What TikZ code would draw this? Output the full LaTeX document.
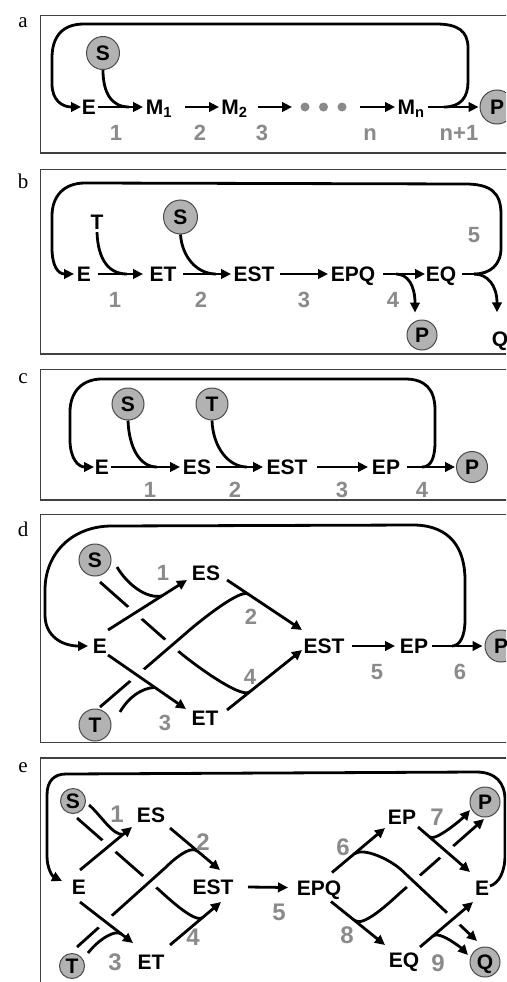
\documentclass[tikz,border=0pt]{standalone}
\usepackage{fontspec}
\setmainfont{Liberation Sans}
\newfontfamily\tagserif{Liberation Serif}
\usetikzlibrary{arrows.meta,calc}

\definecolor{molfill}{HTML}{B2B2B2}
\definecolor{molrim}{HTML}{4A4A4A}
\definecolor{stepgray}{HTML}{8A8A8A}
\definecolor{framegray}{HTML}{404040}

\newcommand{\lblfont}{\fontsize{21}{23}\selectfont\bfseries}
\newcommand{\numfont}{\fontsize{22}{24}\selectfont\bfseries}
\newcommand{\bignumfont}{\fontsize{24}{26}\selectfont\bfseries}
\newcommand{\tagfont}{\fontsize{21}{23}\selectfont\tagserif}

\tikzset{
  lbl/.style={font=\lblfont, inner sep=0pt, text height=15pt, text depth=0pt},
  mol/.style={circle, draw=molrim, fill=molfill, line width=1pt, inner sep=0pt,
              minimum size=#1, font=\lblfont, text height=15pt, text depth=0pt},
  mol/.default=32pt,
  num/.style={font=\numfont, text=stepgray, inner sep=0pt, text height=15.8pt, text depth=0pt},
  bignum/.style={font=\bignumfont, text=stepgray, inner sep=0pt, text height=17.2pt, text depth=0pt},
  tag/.style={font=\tagfont, inner sep=0pt, anchor=base},
  dotnode/.style={circle, fill=stepgray, inner sep=0pt, minimum size=9pt},
  rxn/.style={line width=2.8pt, -{Triangle[length=10pt,width=9.5pt]}},
  wire/.style={line width=2.8pt},
  halo/.style={line width=17pt, white},
  frame/.style={draw=framegray, line width=1.3pt},
}

\begin{document}
\begin{tikzpicture}[x=1pt,y=-1pt]
\useasboundingbox (0,0) rectangle (506,982);
\clip (0,0) rectangle (506,982);
\fill[white] (0,0) rectangle (506,982);

% ---------------- panel a: linear chain E -> M1 -> ... -> Mn ----------------
\node[tag] (tagA) at (23,28) {a};
\draw[frame] (40.7,15.7) rectangle (530,153);
\node[lbl] (aE) at (89,107) {E};
\node[lbl] (aM1) at (159,107) {M\textsubscript{1}};
\node[lbl] (aM2) at (234.5,107) {M\textsubscript{2}};
\node[dotnode] (aD1) at (305,107) {};
\node[dotnode] (aD2) at (323.5,107) {};
\node[dotnode] (aD3) at (342,107) {};
\node[lbl] (aMn) at (411,107) {M\textsubscript{n}};
\node[mol=33pt] (aS) at (103,53) {S};
\node[mol=34pt] (aP) at (497,107) {P};
\coordinate (aJS) at (129,107);
\coordinate (aJL) at (444,107);

\draw[rxn] ($(aE)+(9,0)$) -- ($(aM1)+(-16,0)$);
\draw[rxn] ($(aM1)+(26,0)$) -- ($(aM2)+(-15.5,0)$);
\draw[rxn] ($(aM2)+(23.5,0)$) -- ($(aD1)+(-13,0)$);
\draw[rxn] ($(aD3)+(18,0)$) -- ($(aMn)+(-16,0)$);
\draw[rxn] ($(aMn)+(17,0)$) -- ([xshift=-1pt]aP.west);
\draw[wire] (aS.south) .. controls (103,92) and (111,107) .. (aJS);
\draw[rxn] (aJL) .. controls (461,107) and (468,97) .. (468,82) -- (468,48)
  .. controls (468,31) and (458,24) .. (436,24) -- (84,24)
  .. controls (62,24) and (52,37) .. (52,58) -- (52,84)
  .. controls (52,100) and (62,107) .. ($(aE)+(-8,0)$);

\node[num] (aN1) at (116,133) {1};
\node[num] (aN2) at (200,133) {2};
\node[num] (aN3) at (262,133) {3};
\node[num] (aNn) at (370,133) {n};
\node[num] (aNm) at (459,133) {n+1};

% ---------------- panel b ----------------
\node[tag] (tagB) at (23,188) {b};
\draw[frame] (40.7,169.3) rectangle (530,354);
\node[lbl] (bE) at (84,274) {E};
\node[lbl] (bET) at (163,274) {ET};
\node[lbl] (bEST) at (254,274) {EST};
\node[lbl] (bEPQ) at (353,274) {EPQ};
\node[lbl] (bEQ) at (441,274) {EQ};
\node[lbl] (bT) at (97,221.5) {T};
\node[mol=34pt] (bS) at (180.5,217) {S};
\node[mol=30pt] (bP) at (422,335) {P};
\node[lbl] (bQ) at (500,339) {Q};
\coordinate (bJT) at (127,274);
\coordinate (bJS) at (216,274);
\coordinate (bJP) at (396,274);
\coordinate (bJQ) at (474,274);

\draw[rxn] ($(bE)+(14,0)$) -- ($(bET)+(-20,0)$);
\draw[rxn] ($(bET)+(20,0)$) -- ($(bEST)+(-23,0)$);
\draw[rxn] ($(bEST)+(26,0)$) -- ($(bEPQ)+(-25,0)$);
\draw[rxn] ($(bEPQ)+(30,0)$) -- ($(bEQ)+(-16,0)$);
\draw[wire] ([yshift=-3pt]bT.south) .. controls (98,260) and (109,274) .. (bJT);
\draw[wire] (bS.south) .. controls (182,257) and (197,274) .. (bJS);
\draw[rxn] (bJP) .. controls (408,274) and (415,286) .. ([xshift=-7pt,yshift=7pt]bP.north);
\draw[wire] ($(bEQ)+(21,0)$) -- (bJQ);
\draw[rxn] (bJQ) .. controls (488,274) and (497,286) .. ([xshift=-3pt,yshift=19pt]bQ.north);
\draw[rxn] (bJQ) .. controls (490,274) and (501,265) .. (501,248) -- (501,214)
  .. controls (501,192) and (490,184) .. (465,184) -- (85,183)
  .. controls (64,183) and (52,196) .. (52,216) -- (52,248)
  .. controls (52,266) and (58,274) .. ($(bE)+(-10,0)$);

\node[num] (bN1) at (115,300) {1};
\node[num] (bN2) at (201,300) {2};
\node[num] (bN3) at (304,300) {3};
\node[num] (bN4) at (393,300) {4};
\node[num] (bN5) at (474,235) {5};

% ---------------- panel c ----------------
\node[tag] (tagC) at (23,383) {c};
\draw[frame] (40.7,369.3) rectangle (530,500);
\node[lbl] (cE) at (102,467) {E};
\node[lbl] (cES) at (197,467) {ES};
\node[lbl] (cEST) at (287,467) {EST};
\node[lbl] (cEP) at (386,467) {EP};
\node[mol=31pt] (cP) at (472,467) {P};
\node[mol] (cS) at (128,404) {S};
\node[mol] (cT) at (212,404) {T};
\coordinate (cJS) at (157,467);
\coordinate (cJT) at (247,467);
\coordinate (cJL) at (422,467);

\draw[rxn] ($(cE)+(9,0)$) -- ($(cES)+(-17,0)$);
\draw[rxn] ($(cES)+(19,0)$) -- ($(cEST)+(-24,0)$);
\draw[rxn] ($(cEST)+(30,0)$) -- ($(cEP)+(-18,0)$);
\draw[rxn] ($(cEP)+(21,0)$) -- ([xshift=-1pt]cP.west);
\draw[wire] (cS.south) .. controls (129,448) and (140,467) .. (cJS);
\draw[wire] (cT.south) .. controls (213,448) and (229,467) .. (cJT);
\draw[rxn] (cJL) .. controls (431,467) and (435,458) .. (435,442) -- (435,410)
  .. controls (435,389) and (425,379) .. (405,379) -- (102,379)
  .. controls (82,379) and (70,392) .. (70,412) -- (70,440)
  .. controls (70,458) and (78,467) .. ($(cE)+(-8,0)$);

\node[num] (cN1) at (150,490) {1};
\node[num] (cN2) at (235,490) {2};
\node[num] (cN3) at (342,490) {3};
\node[num] (cN4) at (422,490) {4};

% ---------------- panel d ----------------
\node[tag] (tagD) at (23,536) {d};
\draw[frame] (40.7,514.3) rectangle (530,742.7);
\node[mol] (dS) at (95,560) {S};
\node[mol] (dT) at (95,725) {T};
\node[lbl] (dE) at (100,646) {E};
\node[lbl] (dES) at (206,573) {ES};
\node[lbl] (dET) at (205,718) {ET};
\node[lbl] (dEST) at (324,646) {EST};
\node[lbl] (dEP) at (414,646) {EP};
\node[mol] (dP) at (501,646) {P};

\coordinate (dA1) at ($(dE)+(8,-16)$);
\coordinate (dB1) at ($(dES)+(-19,7)$);
\coordinate (dA2) at ($(dE)+(8,9)$);
\coordinate (dB2) at ($(dET)+(-19,-9)$);
\coordinate (dA3) at ($(dES)+(21,7)$);
\coordinate (dB3) at ($(dEST)+(-22,-16)$);
\coordinate (dA4) at ($(dET)+(22,-8)$);
\coordinate (dB4) at ($(dEST)+(-22,4)$);
\coordinate (dJ1) at ($(dA1)!0.68!(dB1)$);
\coordinate (dJ3) at ($(dA2)!0.6!(dB2)$);
\coordinate (dJ2) at ($(dA3)!0.28!(dB3)$);
\coordinate (dJ4) at ($(dA4)!0.3!(dB4)$);
\coordinate (dSs) at ($(dS)+(5,22)$);
\coordinate (dK4) at (177,650);
\coordinate (dTs) at ($(dT)+(5,-18)$);
\coordinate (dK2) at (185,634);
\coordinate (dJL) at (452,646);

% S -> ET branch runs underneath
\draw[wire] (dSs) -- (dK4) .. controls (188,660) and (240,699) .. (dJ4);
\draw[halo] ($(dTs)!0.76!(dK2)$) -- ($(dTs)!0.93!(dK2)$);
\draw[wire] (dTs) -- (dK2) .. controls (196,624) and (240,588.5) .. (dJ2);
\draw[halo] ($(dA1)!0.26!(dB1)$) -- ($(dA1)!0.42!(dB1)$);
\draw[halo] ($(dA2)!0.29!(dB2)$) -- ($(dA2)!0.46!(dB2)$);
\draw[rxn] (dA1) -- (dB1);
\draw[rxn] (dA2) -- (dB2);
\draw[rxn] (dA3) -- (dB3);
\draw[rxn] (dA4) -- (dB4);
\draw[wire] ($(dS)+(22,7)$) .. controls (127,584) and (146,599) .. (dJ1);
\draw[wire] ($(dT)+(25,-13)$) .. controls (128,698) and (141,688) .. (dJ3);
\draw[rxn] ($(dEST)+(28,0)$) -- ($(dEP)+(-19,0)$);
\draw[rxn] ($(dEP)+(18,0)$) -- ([xshift=-2pt]dP.west);
\draw[rxn] (dJL) .. controls (460,646) and (465,636) .. (465,620) -- (465,580)
  .. controls (465,548) and (450,526) .. (415,525) -- (110,526)
  .. controls (70,527) and (45,555) .. (45,590) -- (45,615)
  .. controls (45,636) and (62,646) .. ($(dE)+(-12,0)$);

\node[num] (dN1) at (163,573) {1};
\node[num] (dN2) at (251,617) {2};
\node[num] (dN3) at (165,723) {3};
\node[num] (dN4) at (250,677) {4};
\node[num] (dN5) at (377,672) {5};
\node[num] (dN6) at (460,672) {6};

% ---------------- panel e ----------------
\node[tag] (tagE) at (23,772) {e};
\draw[frame] (40.7,758) rectangle (530,1000);
\node[mol=25pt] (eS) at (73,801) {S};
\node[mol=25pt] (eT) at (72,966) {T};
\node[lbl] (eE) at (79,887) {E};
\node[lbl] (eES) at (151,815) {ES};
\node[lbl] (eET) at (151,962) {ET};
\node[lbl] (eEST) at (213,887) {EST};
\node[lbl] (eEPQ) at (319,887.5) {EPQ};
\node[lbl] (eEP) at (402,817) {EP};
\node[lbl] (eEQ) at (404,960) {EQ};
\node[lbl] (eE2) at (482,888) {E};
\node[mol=30pt] (eP) at (485,802) {P};
\node[mol=30pt] (eQ) at (485,962) {Q};

\coordinate (eA1) at ($(eE)+(1,-17)$);
\coordinate (eB1) at ($(eES)+(-19,12)$);
\coordinate (eA2) at ($(eE)+(1,15)$);
\coordinate (eB2) at ($(eET)+(-18,-19)$);
\coordinate (eA3) at ($(eES)+(19,13)$);
\coordinate (eB3) at ($(eEST)+(7,-17)$);
\coordinate (eA4) at ($(eET)+(19,-17)$);
\coordinate (eB4) at ($(eEST)+(8,15)$);
\coordinate (eJ1) at ($(eA1)!0.83!(eB1)$);
\coordinate (eJ3) at ($(eA2)!0.78!(eB2)$);
\coordinate (eJ2) at ($(eA3)!0.55!(eB3)$);
\coordinate (eJ4) at ($(eA4)!0.64!(eB4)$);
\coordinate (eSs) at ($(eS)+(4,17)$);
\coordinate (eK4) at (158,889);
\coordinate (eTs) at ($(eT)+(5,-19)$);
\coordinate (eK2) at (165,868);

\coordinate (eA5) at ($(eEPQ)+(13,-15)$);
\coordinate (eB5) at ($(eEP)+(-17,11)$);
\coordinate (eA6) at ($(eEPQ)+(12,14)$);
\coordinate (eB6) at ($(eEQ)+(-19,-15)$);
\coordinate (eA7) at ($(eEP)+(16,10)$);
\coordinate (eB7) at ($(eE2)+(-12,-16)$);
\coordinate (eA8) at ($(eEQ)+(16,-13)$);
\coordinate (eB8) at ($(eE2)+(-9,14)$);
\coordinate (eJ6) at ($(eA5)!0.42!(eB5)$);
\coordinate (eJ8) at ($(eA6)!0.437!(eB6)$);
\coordinate (eJ7) at ($(eA7)!0.22!(eB7)$);
\coordinate (eJ9) at ($(eA8)!0.25!(eB8)$);
\coordinate (eK6) at (402,870.5);
\coordinate (eT6) at ($(eQ)+(-8,-21)$);
\coordinate (eK8) at (400,893);
\coordinate (eT8) at ($(eP)+(-1,17)$);

% left half
\draw[wire] (eSs) -- (eK4) .. controls (165.5,895.6) and (195,924) .. (eJ4);
\draw[halo] ($(eTs)!0.72!(eK2)$) -- ($(eTs)!0.93!(eK2)$);
\draw[wire] (eTs) -- (eK2) .. controls (172.4,860.7) and (189.8,844.7) .. (eJ2);
\draw[halo] ($(eA1)!0.45!(eB1)$) -- ($(eA1)!0.66!(eB1)$);
\draw[halo] ($(eA2)!0.37!(eB2)$) -- ($(eA2)!0.58!(eB2)$);
\draw[rxn] (eA1) -- (eB1);
\draw[rxn] (eA2) -- (eB2);
\draw[rxn] (eA3) -- (eB3);
\draw[rxn] (eA4) -- (eB4);
\draw[wire] ($(eS)+(16,4)$) .. controls (100,814) and (113,836) .. (eJ1);
\draw[wire] ($(eT)+(16,-13)$) .. controls (98,940) and (115,929) .. (eJ3);

% middle step
\draw[rxn] ($(eEST)+(35,0)$) -- ($(eEPQ)+(-31,0)$);

% right half
\draw[rxn] (eJ8) .. controls (363,927) and (387,905) .. (eK8) -- (eT8);
\draw[halo] ($(eK6)!0.03!(eT6)$) -- ($(eK6)!0.28!(eT6)$);
\draw[rxn] (eJ6) .. controls (364,847) and (391,860) .. (eK6) -- (eT6);
\draw[halo] ($(eA7)!0.44!(eB7)$) -- ($(eA7)!0.66!(eB7)$);
\draw[halo] ($(eA8)!0.52!(eB8)$) -- ($(eA8)!0.74!(eB8)$);
\draw[rxn] (eA5) -- (eB5);
\draw[rxn] (eA6) -- (eB6);
\draw[rxn] (eA7) -- (eB7);
\draw[rxn] (eA8) -- (eB8);
\draw[rxn] (eJ7) .. controls (435.4,842.1) and (463.4,817.5) .. ($(eP)+(-15,8)$);
\draw[rxn] (eJ9) .. controls (439.4,930.6) and (461.3,948) .. ($(eQ)+(-17,-7)$);

% regeneration of free enzyme
\draw[rxn] ($(eE2)+(8,-2)$) .. controls (499,883) and (505,872) .. (505,855) -- (505,800)
  .. controls (505,783) and (496,772) .. (476,772) -- (66,774)
  .. controls (54,774) and (47,781) .. (47,795) -- (47,856)
  .. controls (47,868) and (52,876) .. ($(eE)+(-17,-6)$);

\node[bignum] (eN1) at (117,814) {1};
\node[bignum] (eN2) at (203,842) {2};
\node[bignum] (eN3) at (115,962) {3};
\node[bignum] (eN4) at (193,937) {4};
\node[bignum] (eN5) at (279,912) {5};
\node[bignum] (eN6) at (343,847) {6};
\node[bignum] (eN7) at (437,817) {7};
\node[bignum] (eN8) at (347,935) {8};
\node[bignum] (eN9) at (438,963) {9};
\end{tikzpicture}
\end{document}
